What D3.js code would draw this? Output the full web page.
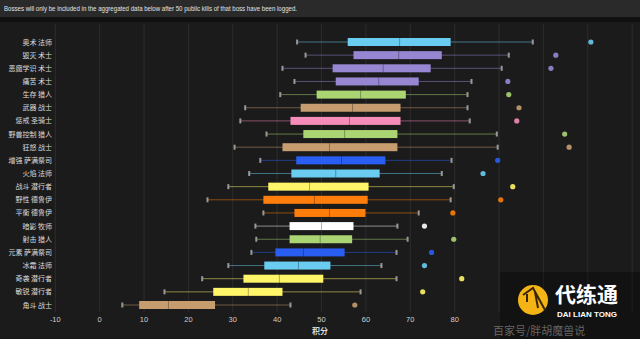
<!doctype html>
<html lang="zh">
<head>
<meta charset="utf-8">
<title>积分分布</title>
<script src="https://d3js.org/d3.v7.min.js"></script>
<style>
  html, body { margin: 0; padding: 0; background: #1b1b1b; }
  svg { display: block; }
  text { font-family: "Liberation Sans", Arial, sans-serif; }
  .cjk { font-family: "Noto Sans CJK SC", "Noto Sans", sans-serif; }
</style>
</head>
<body>
<svg id="chart" width="640" height="339"></svg>
<script>
// specs, top to bottom
const specs = ["奥术 法师", "毁灭 术士", "恶魔学识 术士", "痛苦 术士", "生存 猎人", "武器 战士",
  "惩戒 圣骑士", "野兽控制 猎人", "狂怒 战士", "增强 萨满祭司", "火焰 法师", "战斗 潜行者",
  "野性 德鲁伊", "平衡 德鲁伊", "暗影 牧师", "射击 猎人", "元素 萨满祭司", "冰霜 法师",
  "奇袭 潜行者", "敏锐 潜行者", "角斗 战士"];

const lows     = [44.5, 46.4, 41.2, 43.9, 40.7, 32.8, 31.7, 37.6, 30.4, 36.2, 33.7, 29.0, 24.3, 36.9, 35.1, 35.3, 34.2, 29.0, 23.1, 14.6, 5.1];
const q1s      = [55.9, 57.2, 52.5, 53.2, 48.9, 45.3, 43.0, 45.9, 41.2, 44.3, 43.2, 38.0, 36.9, 43.9, 42.8, 42.8, 39.6, 37.1, 32.4, 25.6, 8.9];
const medians  = [67.6, 67.4, 63.9, 62.9, 58.8, 57.0, 56.3, 55.2, 51.8, 54.5, 53.2, 47.3, 48.4, 51.8, 50.0, 49.7, 45.9, 44.8, 40.5, 33.5, 15.5];
const q3s      = [79.1, 77.1, 74.6, 71.9, 69.0, 67.8, 67.8, 67.1, 67.1, 64.4, 63.1, 60.6, 60.4, 59.9, 57.2, 56.9, 55.2, 52.0, 50.4, 41.2, 26.0];
const highs    = [97.6, 92.2, 90.6, 83.8, 82.9, 82.9, 83.4, 89.5, 89.7, 79.3, 77.1, 79.8, 79.1, 71.9, 67.1, 69.4, 66.9, 63.5, 66.9, 58.8, 43.0];
const outliers = [110.7, 102.8, 101.7, 92.0, 92.2, 94.5, 94.0, 104.8, 105.8, 89.7, 86.4, 93.1, 90.4, 79.6, 73.2, 79.8, 74.8, 73.2, 81.6, 72.8, 57.5];

const xTicks = [-10, 0, 10, 20, 30, 40, 50, 60, 70, 80, 90, 100, 110, 120];

const classColor = {
  "法师": "#69ccf0", "术士": "#9787d2", "猎人": "#abd473", "战士": "#c79c6e",
  "圣骑士": "#f58cba", "萨满祭司": "#2a5ef2", "潜行者": "#fff569", "德鲁伊": "#ff7d0a", "牧师": "#ffffff"
};
const colorOf = s => classColor[s.split(" ")[1]];

const svg = d3.select("#chart");
const W = 640, H = 339;

// header bar
svg.append("rect").attr("x", 0).attr("y", 0).attr("width", W).attr("height", 17).attr("fill", "#2a2a2a");
svg.append("rect").attr("x", 0).attr("y", 17).attr("width", W).attr("height", 5).attr("fill", "#101010");
svg.append("text").attr("x", 4).attr("y", 11).attr("font-size", 8).attr("fill", "#e2e2e2")
  .attr("textLength", 293).attr("lengthAdjust", "spacingAndGlyphs")
  .text("Bosses will only be included in the aggregated data below after 50 public kills of that boss have been logged.");

const x = d3.scaleLinear().domain([-10, 122]).range([55.3, 641]);
const y = d3.scalePoint().domain(specs).range([42, 305]);

// grid
svg.append("g").selectAll("line").data(xTicks).join("line")
  .attr("x1", d => x(d)).attr("x2", d => x(d))
  .attr("y1", 24).attr("y2", 312)
  .attr("stroke", "#2d2d2d").attr("stroke-width", 1);

// x tick labels
svg.append("g").selectAll("text").data(xTicks.filter(d => d <= 80)).join("text")
  .attr("x", d => x(d)).attr("y", 322)
  .attr("text-anchor", "middle").attr("font-size", 7.5).attr("fill", "#cfcfcf")
  .text(d => d);
svg.append("text").attr("class", "cjk").attr("x", 320).attr("y", 334)
  .attr("text-anchor", "middle").attr("font-size", 8).attr("font-weight", "bold").attr("fill", "#d8d8d8")
  .text("积分");

// y labels
svg.append("g").selectAll("text").data(specs).join("text")
  .attr("class", "cjk")
  .attr("x", 52).attr("y", d => y(d) + 2.5)
  .attr("text-anchor", "end").attr("font-size", 7).attr("fill", "#dcdcdc")
  .text(d => d);

const rows = svg.append("g").selectAll("g").data(specs).join("g")
  .attr("transform", d => `translate(0,${y(d)})`);

const boxH = 8;
// whiskers
rows.append("line")
  .attr("x1", (d, i) => x(lows[i])).attr("x2", (d, i) => x(highs[i]))
  .attr("y1", 0).attr("y2", 0)
  .attr("stroke", d => colorOf(d)).attr("stroke-opacity", 0.5).attr("stroke-width", 1);
rows.append("rect")
  .attr("x", (d, i) => x(lows[i]) - 1).attr("y", -2.5).attr("width", 2).attr("height", 5)
  .attr("fill", "#999");
rows.append("rect")
  .attr("x", (d, i) => x(highs[i]) - 1).attr("y", -2.5).attr("width", 2).attr("height", 5)
  .attr("fill", "#999");
// boxes
rows.append("rect")
  .attr("x", (d, i) => x(q1s[i])).attr("y", -boxH / 2)
  .attr("width", (d, i) => x(q3s[i]) - x(q1s[i])).attr("height", boxH)
  .attr("fill", d => colorOf(d));
rows.append("line")
  .attr("x1", (d, i) => x(medians[i])).attr("x2", (d, i) => x(medians[i]))
  .attr("y1", -boxH / 2).attr("y2", boxH / 2)
  .attr("stroke", "#000").attr("stroke-opacity", 0.3).attr("stroke-width", 1);
// outliers
rows.append("circle")
  .attr("cx", (d, i) => x(outliers[i])).attr("cy", 0).attr("r", 2.6)
  .attr("fill", d => colorOf(d)).attr("fill-opacity", 0.9);

// watermark
const wm = svg.append("g");
wm.append("rect").attr("x", 500).attr("y", 272).attr("width", 140).attr("height", 67)
  .attr("fill", "#000").attr("fill-opacity", 0.3);
wm.append("circle").attr("cx", 533).attr("cy", 300).attr("r", 15).attr("fill", "#f5b415");
wm.append("path").attr("d", "M523,295 L533,288 L545,310 M527,302 L527,294 M535,292 L538,308")
  .attr("stroke", "#3a2600").attr("stroke-width", 2).attr("fill", "none");
wm.append("text").attr("class", "cjk").attr("x", 555).attr("y", 302)
  .attr("font-size", 21).attr("font-weight", "bold").attr("fill", "#ffffff").text("代练通");
wm.append("text").attr("x", 557).attr("y", 317)
  .attr("font-size", 8).attr("font-weight", "bold").attr("fill", "#ffffff")
  .attr("textLength", 60).text("DAI LIAN TONG");
wm.append("text").attr("class", "cjk").attr("x", 493).attr("y", 335)
  .attr("font-size", 11).attr("fill", "#cccccc").attr("fill-opacity", 0.45).text("百家号/胖胡魔兽说");
</script>
</body>
</html>
